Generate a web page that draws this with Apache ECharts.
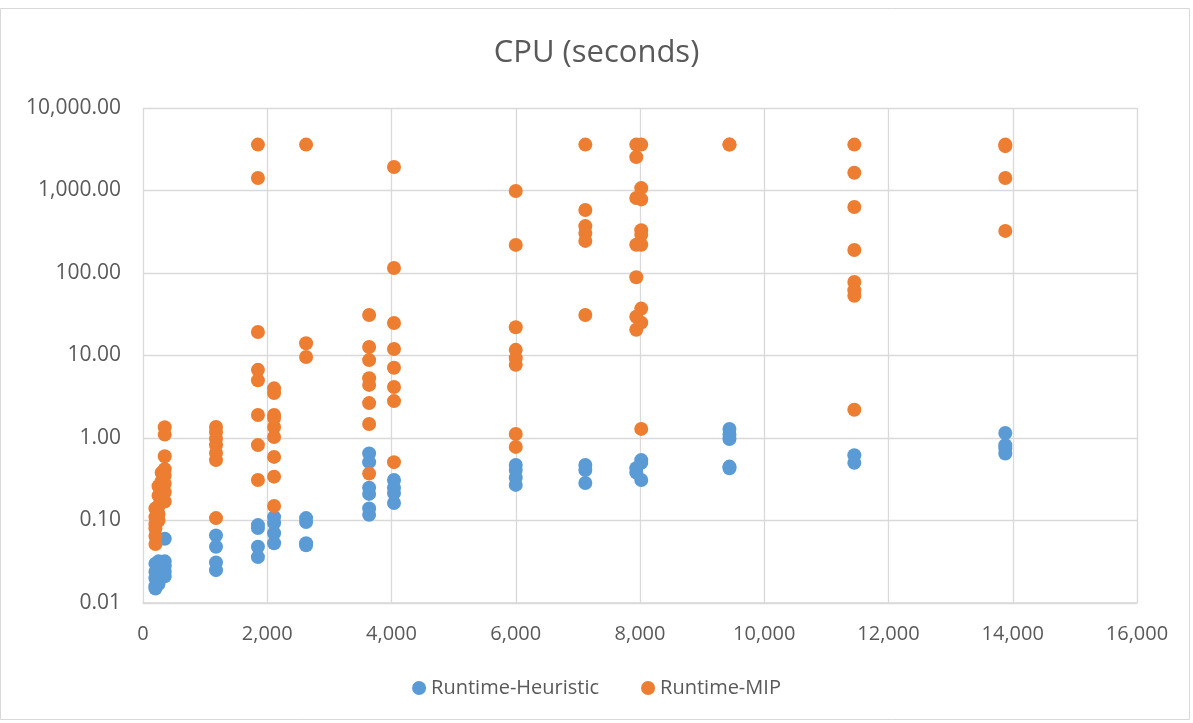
<!DOCTYPE html>
<html>
<head>
<meta charset="utf-8">
<script src="https://cdn.jsdelivr.net/npm/echarts@6/dist/echarts.min.js"></script>
<style>
html,body{margin:0;padding:0;background:#fff;}
#chart{width:1193px;height:723px;}
</style>
</head>
<body>
<div id="chart"></div>
<script>
const title = "CPU (seconds)";
const seriesNames = ["Runtime-Heuristic", "Runtime-MIP"];
const xTicks = [0, 2000, 4000, 6000, 8000, 10000, 12000, 14000, 16000];
const yTicks = [0.01, 0.1, 1, 10, 100, 1000, 10000];

// [size, seconds]
const heuristic = [
  [200,0.030],[200,0.024],[200,0.020],[200,0.016],[200,0.015],
  [250,0.032],[250,0.028],[250,0.020],[250,0.017],
  [300,0.030],[300,0.026],[300,0.022],
  [350,0.060],[350,0.032],[350,0.028],[350,0.024],[350,0.021],
  [1175,0.066],[1175,0.048],[1175,0.031],[1175,0.025],
  [1850,0.088],[1850,0.081],[1850,0.048],[1850,0.036],
  [2110,0.110],[2110,0.093],[2110,0.070],[2110,0.053],
  [2625,0.107],[2625,0.096],[2625,0.053],[2625,0.050],
  [3640,0.65],[3640,0.51],[3640,0.25],[3640,0.21],[3640,0.14],[3640,0.117],
  [4040,0.31],[4040,0.25],[4040,0.215],[4040,0.163],
  [6000,0.47],[6000,0.41],[6000,0.33],[6000,0.27],
  [7120,0.47],[7120,0.41],[7120,0.285],
  [7940,0.43],[7940,0.38],
  [8020,0.54],[8020,0.50],[8020,0.31],
  [9440,1.29],[9440,1.10],[9440,0.97],[9440,0.45],[9440,0.43],
  [11450,0.62],[11450,0.50],
  [13880,1.15],[13880,0.82],[13880,0.75],[13880,0.65]
];
const mip = [
  [200,0.14],[200,0.11],[200,0.09],[200,0.08],[200,0.065],[200,0.052],
  [250,0.26],[250,0.20],[250,0.15],[250,0.12],[250,0.10],
  [300,0.38],[300,0.30],[300,0.25],[300,0.20],
  [350,1.35],[350,1.10],[350,0.60],[350,0.42],[350,0.35],[350,0.28],[350,0.22],[350,0.17],
  [1175,1.36],[1175,1.18],[1175,0.98],[1175,0.82],[1175,0.66],[1175,0.54],[1175,0.107],
  [1850,3600],[1850,1420],[1850,19.3],[1850,6.7],[1850,5.0],[1850,1.9],[1850,0.82],[1850,0.31],
  [2110,4.0],[2110,3.5],[2110,1.9],[2110,1.75],[2110,1.36],[2110,1.03],[2110,0.59],[2110,0.34],[2110,0.15],
  [2625,3600],[2625,14.1],[2625,9.6],
  [3640,31],[3640,12.7],[3640,8.8],[3640,5.3],[3640,4.4],[3640,2.65],[3640,1.48],[3640,0.37],
  [4040,1930],[4040,115],[4040,24.8],[4040,12],[4040,7.1],[4040,4.15],[4040,2.8],[4040,0.51],
  [6000,985],[6000,219],[6000,22],[6000,11.7],[6000,9.3],[6000,7.7],[6000,1.12],[6000,0.78],
  [7120,3600],[7120,580],[7120,370],[7120,305],[7120,245],[7120,31],
  [7940,3600],[7940,2540],[7940,810],[7940,220],[7940,89],[7940,29.5],[7940,20.5],
  [8020,3600],[8020,1070],[8020,780],[8020,330],[8020,290],[8020,220],[8020,37],[8020,25],[8020,1.29],
  [9440,3600],[9440,3600],
  [11450,3600],[11450,1640],[11450,630],[11450,190],[11450,78],[11450,62],[11450,53],[11450,2.2],
  [13880,3600],[13880,3450],[13880,1420],[13880,324]
];

function fmtNum(v, dec) {
  return Number(v).toLocaleString('en-US', {minimumFractionDigits: dec, maximumFractionDigits: dec});
}

const chart = echarts.init(document.getElementById('chart'), null, {renderer: 'canvas'});
const grey = '#595959';
const gridColor = '#d9d9d9';
const font = '"Open Sans", "Liberation Sans", sans-serif';

chart.setOption({
  backgroundColor: '#fff',
  animation: false,
  textStyle: {fontFamily: font},
  title: {
    text: title,
    left: 'center',
    top: 33,
    textStyle: {color: grey, fontSize: 31, fontWeight: 'normal', fontFamily: font}
  },
  legend: {
    data: seriesNames,
    top: 673,
    left: 'center',
    icon: 'circle',
    itemWidth: 14,
    itemHeight: 14,
    itemGap: 42,
    textStyle: {color: grey, fontSize: 20, fontFamily: font}
  },
  grid: {left: 143, right: 56, top: 108, bottom: 120, containLabel: false},
  xAxis: {
    type: 'value',
    min: xTicks[0],
    max: xTicks[xTicks.length - 1],
    interval: xTicks[1] - xTicks[0],
    axisLine: {show: true, lineStyle: {color: gridColor, width: 1.5}},
    axisTick: {show: false},
    axisLabel: {color: grey, fontSize: 20, margin: 21, formatter: v => fmtNum(v, 0)},
    splitLine: {show: true, lineStyle: {color: gridColor, width: 1.3}}
  },
  yAxis: {
    type: 'log',
    logBase: 10,
    min: yTicks[0],
    max: yTicks[yTicks.length - 1],
    axisLine: {show: false},
    axisTick: {show: false},
    axisLabel: {color: grey, fontSize: 21, margin: 22, formatter: v => fmtNum(v, 2)},
    splitLine: {show: true, lineStyle: {color: gridColor, width: 1.3}}
  },
  graphic: [{
    type: 'rect',
    shape: {x: 0.5, y: 8.5, width: 1189, height: 711},
    style: {fill: 'none', stroke: '#d9d9d9', lineWidth: 1},
    silent: true
  }],
  series: [
    {
      name: seriesNames[0],
      type: 'scatter',
      data: heuristic,
      symbol: 'circle',
      symbolSize: 14,
      itemStyle: {color: '#5B9BD5', opacity: 1}
    },
    {
      name: seriesNames[1],
      type: 'scatter',
      data: mip,
      symbol: 'circle',
      symbolSize: 14,
      itemStyle: {color: '#ED7D31', opacity: 1}
    }
  ]
});
</script>
</body>
</html>
